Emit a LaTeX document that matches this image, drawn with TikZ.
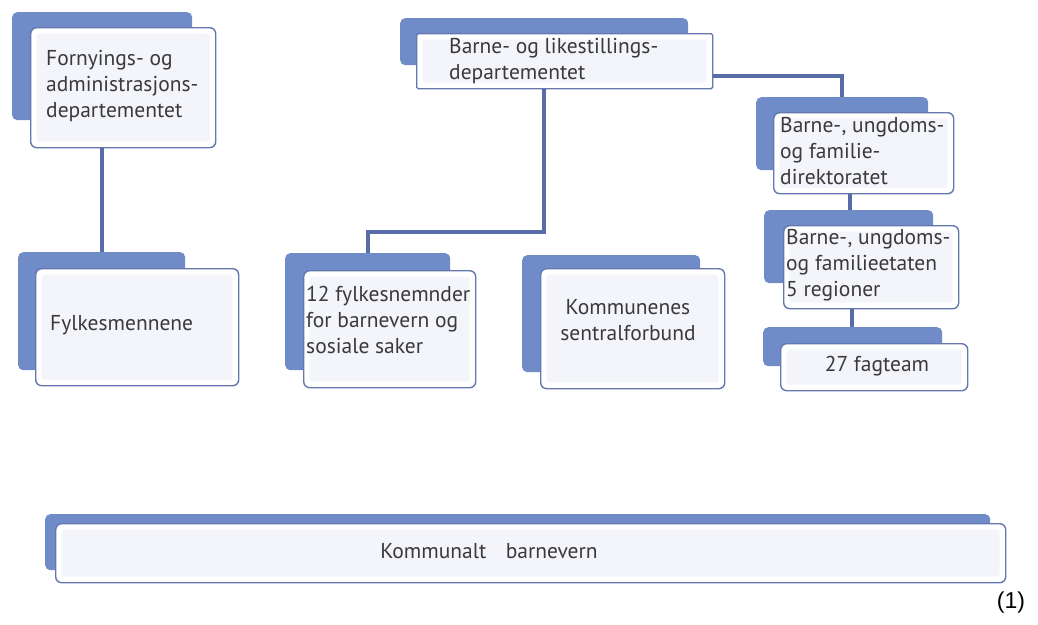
\documentclass[tikz,border=0pt]{standalone}
\usepackage{fontspec}
\setmainfont{PT Sans}
\newfontfamily\arialfont{Liberation Sans}
\definecolor{bk}{RGB}{112,140,200}
\definecolor{fr}{RGB}{100,120,175}
\definecolor{ff}{RGB}{244,245,251}
\definecolor{cn}{RGB}{88,108,168}
\definecolor{tx}{RGB}{58,58,58}
\begin{document}
\begin{tikzpicture}[x=1pt,y=-1pt,
  backbox/.style={fill=bk, rounded corners=5pt, inner sep=0pt, anchor=north west},
  frontbox/.style={draw=fr, line width=1.4pt, fill=white, rounded corners=6pt, inner sep=0pt, anchor=north west,
    path picture={\fill[ff, rounded corners=3pt] ([shift={(6pt,-6pt)}]path picture bounding box.north west) rectangle ([shift={(-6pt,6pt)}]path picture bounding box.south east);}},
  conn/.style={draw=cn, line width=4pt},
  lbl/.style={text=tx, font=\fontsize{21.5}{26}\selectfont, inner sep=0pt, align=left}]
\useasboundingbox[fill=white] (0,0) rectangle (1038,624);

% Fornyings- og administrasjonsdepartementet
\node[backbox, minimum width=180pt, minimum height=108pt] (fadB) at (12,12) {};
\node[frontbox, minimum width=185pt, minimum height=120pt] (fad) at (30,27) {};
\node[lbl, anchor=west] (fadT) at (46,86) {Fornyings- og\\administrasjons-\\departementet};

% Fylkesmennene
\node[backbox, minimum width=167pt, minimum height=118pt] (fylkB) at (18,252) {};
\node[frontbox, minimum width=203pt, minimum height=117pt] (fylk) at (35,268) {};
\node[lbl, anchor=west] (fylkT) at (50,325) {Fylkesmennene};

% Barne- og likestillingsdepartementet
\node[backbox, minimum width=288pt, minimum height=47pt] (bldB) at (400,18) {};
\node[frontbox, rounded corners=1.5pt, minimum width=296pt, minimum height=55pt] (bld) at (416,33) {};
\node[lbl, anchor=west] (bldT) at (449,61) {Barne- og likestillings-\\departementet};

% 12 fylkesnemnder
\node[backbox, minimum width=165pt, minimum height=117pt] (fnB) at (285,253) {};
\node[frontbox, minimum width=172pt, minimum height=117pt] (fn) at (303,270) {};
\node[lbl, anchor=west] (fnT) at (306,320) {12 fylkesnemnder\\for barnevern og\\sosiale saker};

% Kommunenes sentralforbund
\node[backbox, minimum width=178pt, minimum height=117pt] (ksB) at (522,255) {};
\node[frontbox, minimum width=184pt, minimum height=120pt] (ks) at (540,268) {};
\node[lbl, align=center] (ksT) at (628,320) {Kommunenes\\sentralforbund};

% Barne-, ungdoms- og familiedirektoratet
\node[backbox, minimum width=172pt, minimum height=73pt] (udirB) at (756,97) {};
\node[frontbox, minimum width=180pt, minimum height=81pt] (udir) at (773,112) {};
\node[lbl, anchor=west] (udirT) at (780,151) {Barne-\kern0.5pt, ungdoms-\\og familie-\\direktoratet};

% Barne-, ungdoms- og familieetaten
\node[backbox, minimum width=169pt, minimum height=73pt] (bufB) at (764,210) {};
\node[frontbox, minimum width=175pt, minimum height=83pt] (buf) at (783,225) {};
\node[lbl, anchor=west] (bufT) at (786,265) {Barne-\kern0.5pt, ungdoms-\\og familieetaten\\5 regioner};

% 27 fagteam
\node[backbox, minimum width=179pt, minimum height=39pt] (fagB) at (763,327) {};
\node[frontbox, minimum width=187pt, minimum height=47pt] (fag) at (780,343) {};
\node[lbl] (fagT) at (877,366) {27 fagteam};

% Kommunalt barnevern
\node[backbox, minimum width=945pt, minimum height=56pt] (kbB) at (45,514) {};
\node[frontbox, minimum width=950pt, minimum height=59pt] (kb) at (55,523) {};
\node[lbl] (kbT) at (489,551) {Kommunalt\hspace{0.9em}barnevern};

% (1)
\node[text=black, font=\arialfont\fontsize{23}{26}\selectfont, inner sep=0pt] (num) at (1011,603) {(1)};

% connectors
\coordinate (bend) at (0,232);
\coordinate (rbend) at (0,76);
\coordinate (c1) at (850,0);
\coordinate (c2) at (852,0);
\draw[conn] (fadB.center |- fad.south) -- (fadB.center |- fylkB.north);
\draw[conn] (bldB.center |- bld.south) -- (bldB.center |- bend) -| (fnB.north);
\draw[conn] (bld.east |- rbend) -| (udirB.north);
\draw[conn] (udir.south -| c1) -- (bufB.north -| c1);
\draw[conn] (buf.south -| c2) -- (fagB.north -| c2);
\end{tikzpicture}
\end{document}
